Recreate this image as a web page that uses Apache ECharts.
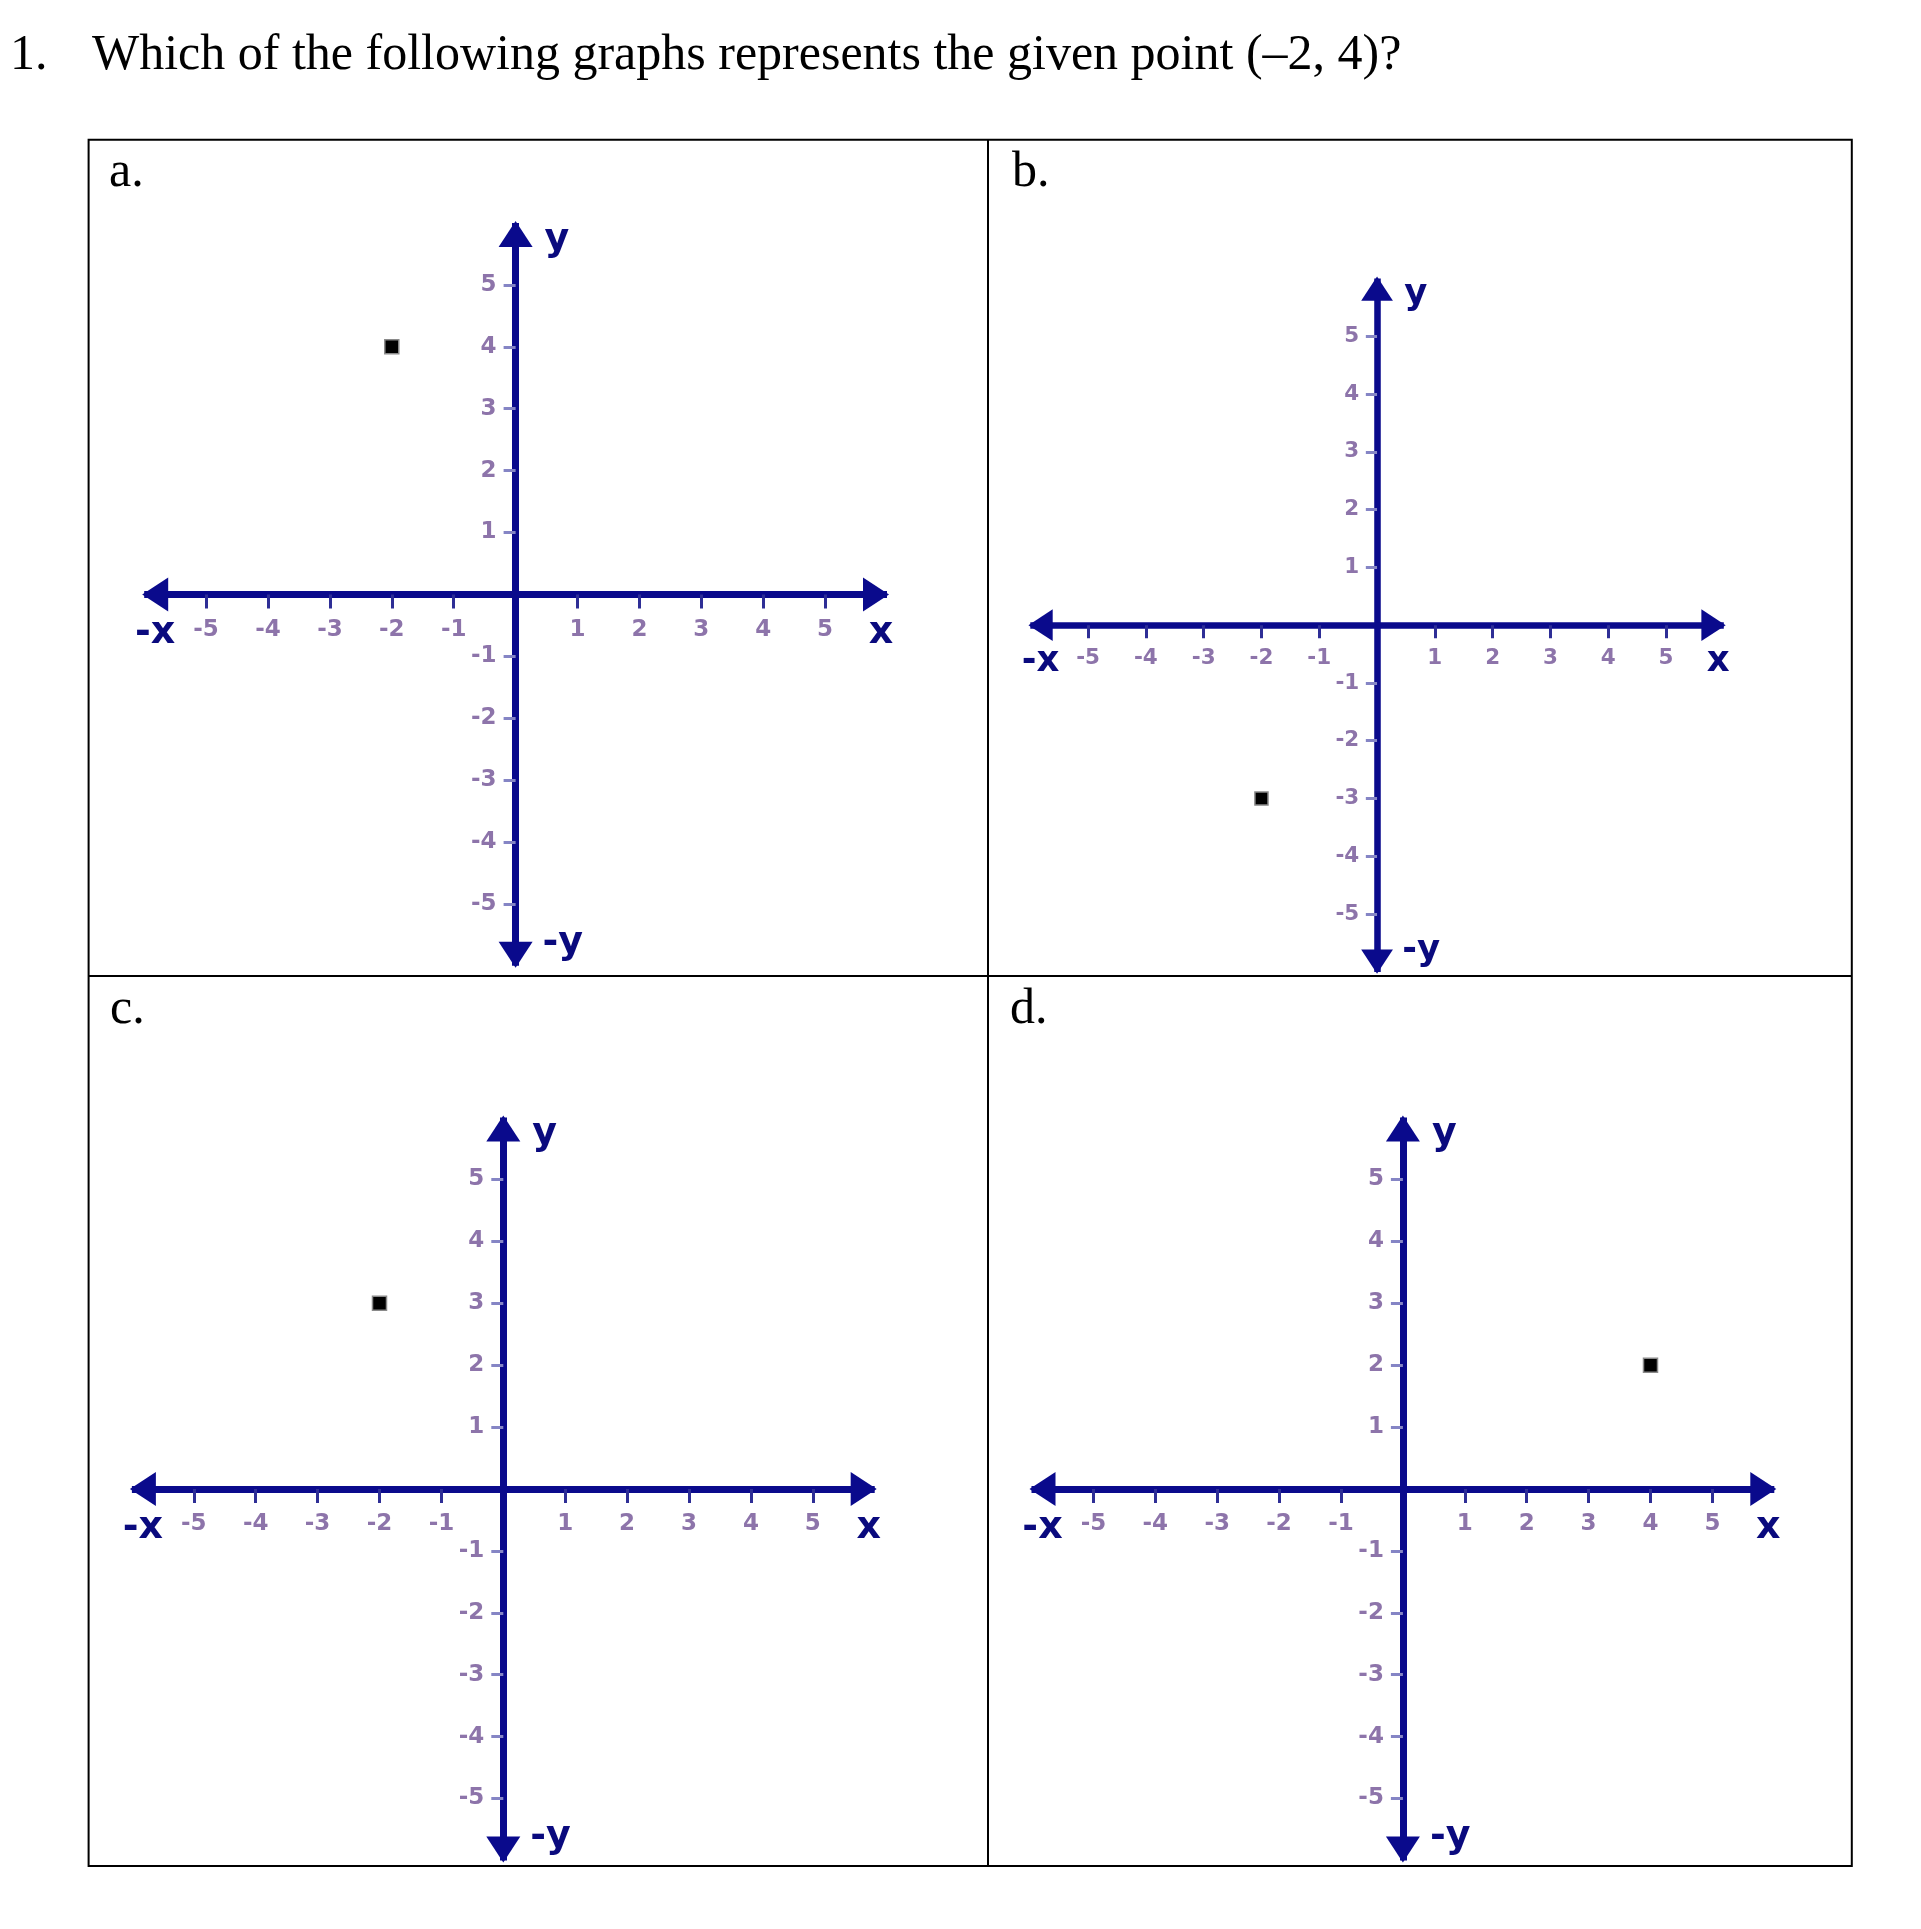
<!DOCTYPE html>
<html>
<head>
<meta charset="utf-8">
<script src="https://cdn.jsdelivr.net/npm/echarts@6/dist/echarts.min.js"></script>
<style>
html,body{margin:0;padding:0;background:#fff;}
#chart{width:1921px;height:1929px;}
</style>
</head>
<body>
<div id="chart"></div>
<script>
// ---- data ----
const questionNumber = '1.';
const questionText = 'Which of the following graphs represents the given point (–2, 4)?';
const panelLetters = ['a.', 'b.', 'c.', 'd.'];
const axisMin = -6;
const axisMax = 6;
const tickValues = [-5, -4, -3, -2, -1, 1, 2, 3, 4, 5];
const xEndLabels = ['-x', 'x'];
const yEndLabels = ['y', '-y'];
const pointA = [-2, 4];
const pointB = [-2, -3];
const pointC = [-2, 3];
const pointD = [4, 2];
const panelPoints = [pointA, pointB, pointC, pointD];

// ---- layout / style ----
const NAVY = '#0a0a8c';
const NAME_COLOR = '#0a0a7e';
const LABEL_COLOR = '#8d74aa';
const TICKX_COLOR = '#2e2e96';
const TICKY_COLOR = '#8585c5';
const SANS = 'DejaVu Sans';
const SERIF = 'Liberation Serif';

const panels = [
  { rect: { left: 144.2, top: 223.0, width: 742.8, height: 742.8 }, s: 1 },
  { rect: { left: 1030.3, top: 278.4, width: 693.5, height: 693.5 }, s: 0.934 },
  { rect: { left: 131.9, top: 1117.6, width: 742.8, height: 742.8 }, s: 1 },
  { rect: { left: 1031.5, top: 1117.6, width: 742.8, height: 742.8 }, s: 1 }
];
const letterPos = [[109, 173], [1012, 173], [110, 1010], [1010, 1010]];

const grids = [], xAxes = [], yAxes = [], series = [];

panels.forEach(function (p, i) {
  const s = p.s;
  grids.push(Object.assign({ outerBoundsMode: 'none', containLabel: false }, p.rect));
  // the axes cross at value 0, which is the centre of the symmetric range
  const xOffset = -p.rect.height / 2;
  const yOffset = -p.rect.width / 2;
  const lineCfg = {
    onZero: false,
    lineStyle: { color: NAVY, width: 7 * s, cap: 'butt' },
    symbol: ['triangle', 'triangle'],
    symbolSize: [34 * s, 26 * s],
    symbolOffset: [11 * s, -11 * s]
  };
  xAxes.push({
    gridIndex: i, type: 'value', min: axisMin, max: axisMax, interval: 1,
    position: 'bottom', offset: xOffset,
    axisLine: lineCfg,
    axisTick: { show: true, customValues: tickValues, length: 14 * s, lineStyle: { color: TICKX_COLOR, width: 3 } },
    axisLabel: {
      customValues: [axisMin].concat(tickValues, [axisMax]),
      margin: 24 * s,
      color: LABEL_COLOR, fontFamily: SANS, fontWeight: 'bold', fontSize: 23 * s,
      formatter: function (v) {
        if (v === axisMin) return '{nl|' + xEndLabels[0] + '}';
        if (v === axisMax) return '{nr|' + xEndLabels[1] + '}';
        return String(v);
      },
      rich: {
        nl: { fontFamily: SANS, fontWeight: 'bold', fontSize: 38 * s, color: NAME_COLOR, lineHeight: 30 * s, padding: [0, 0, 0, 22 * s] },
        nr: { fontFamily: SANS, fontWeight: 'bold', fontSize: 38 * s, color: NAME_COLOR, lineHeight: 30 * s, padding: [0, 12 * s, 0, 0] }
      }
    },
    splitLine: { show: false }
  });
  yAxes.push({
    gridIndex: i, type: 'value', min: axisMin, max: axisMax, interval: 1,
    position: 'left', offset: yOffset,
    axisLine: lineCfg,
    axisTick: { show: true, customValues: tickValues, length: 12 * s, lineStyle: { color: TICKY_COLOR, width: 3 } },
    axisLabel: { customValues: tickValues, margin: 19 * s, color: LABEL_COLOR, fontFamily: SANS, fontWeight: 'bold', fontSize: 23 * s },
    splitLine: { show: false },
    name: yEndLabels[0], nameLocation: 'end', nameGap: -17 * s, nameMoveOverlap: false,
    nameTextStyle: { fontFamily: SANS, fontWeight: 'bold', fontSize: 38 * s, color: NAME_COLOR, align: 'left', verticalAlign: 'middle', padding: [0, 0, 0, 29 * s] }
  });
  yAxes.push({
    gridIndex: i, type: 'value', min: axisMin, max: axisMax, interval: 1,
    position: 'left', offset: yOffset,
    axisLine: { show: false, onZero: false },
    axisTick: { show: false }, axisLabel: { show: false }, splitLine: { show: false },
    name: yEndLabels[1], nameLocation: 'start', nameGap: -23 * s, nameMoveOverlap: false,
    nameTextStyle: { fontFamily: SANS, fontWeight: 'bold', fontSize: 38 * s, color: NAME_COLOR, align: 'left', verticalAlign: 'middle', padding: [0, 0, 0, 27 * s] }
  });
  series.push({
    type: 'scatter', xAxisIndex: i, yAxisIndex: 2 * i,
    data: [panelPoints[i]], symbol: 'rect', symbolSize: 14 * s,
    itemStyle: { color: '#000', borderColor: '#8a8a8a', borderWidth: 1.5, opacity: 1 },
    silent: true, z: 5
  });
});

const graphics = [
  { type: 'text', x: 10, y: 56, style: { text: questionNumber, fontFamily: SERIF, fontSize: 50, fill: '#000', align: 'left', verticalAlign: 'middle' } },
  { type: 'text', x: 92, y: 56, style: { text: questionText, fontFamily: SERIF, fontSize: 50, fill: '#000', align: 'left', verticalAlign: 'middle' } },
  { type: 'rect', shape: { x: 88.6, y: 139.8, width: 1763.2, height: 1726.2 }, style: { fill: 'none', stroke: '#000', lineWidth: 2 } },
  { type: 'line', shape: { x1: 988, y1: 139.8, x2: 988, y2: 1866 }, style: { stroke: '#000', lineWidth: 2 } },
  { type: 'line', shape: { x1: 88.6, y1: 976, x2: 1851.8, y2: 976 }, style: { stroke: '#000', lineWidth: 2 } }
];
panelLetters.forEach(function (t, i) {
  graphics.push({ type: 'text', x: letterPos[i][0], y: letterPos[i][1], style: { text: t, fontFamily: SERIF, fontSize: 50, fill: '#000', align: 'left', verticalAlign: 'middle' } });
});

const chart = echarts.init(document.getElementById('chart'), null, { renderer: 'canvas' });
chart.setOption({
  backgroundColor: '#fff',
  animation: false,
  grid: grids,
  xAxis: xAxes,
  yAxis: yAxes,
  series: series,
  graphic: graphics
});
</script>
</body>
</html>
